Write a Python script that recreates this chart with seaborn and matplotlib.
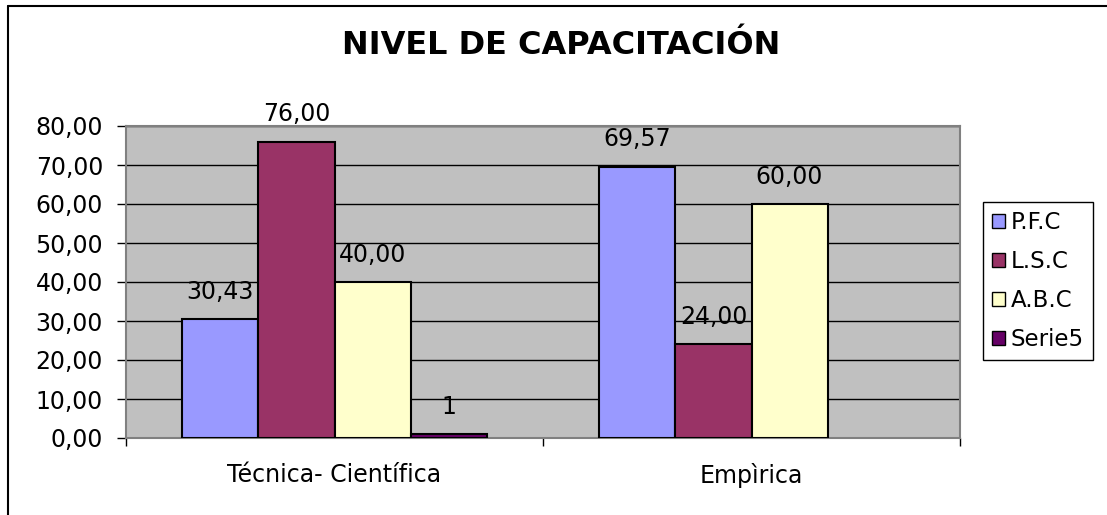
import matplotlib
matplotlib.use('Agg')
import matplotlib.pyplot as plt
import seaborn as sns
import pandas as pd
from matplotlib.lines import Line2D
from matplotlib.patches import Patch

# Chart data
categories = ['Técnica- Científica', 'Empìrica']
series = ['P.F.C', 'L.S.C', 'A.B.C', 'Serie5']
pfc = [30.43, 69.57]
lsc = [76.00, 24.00]
abc = [40.00, 60.00]
serie5 = [1.0, None]
yticks = [0, 10, 20, 30, 40, 50, 60, 70, 80]

colors = {'P.F.C': '#9999FF', 'L.S.C': '#993366', 'A.B.C': '#FFFFCC', 'Serie5': '#660066'}

rows = []
for name, vals in zip(series, [pfc, lsc, abc, serie5]):
    for cat, v in zip(categories, vals):
        if v is not None:
            rows.append({'categoria': cat, 'serie': name, 'valor': v})
df = pd.DataFrame(rows)

sns.set_style('white')
plt.rcParams['font.family'] = ['DejaVu Sans']
plt.rcParams['text.color'] = 'black'
plt.rcParams['xtick.color'] = 'black'
plt.rcParams['ytick.color'] = 'black'
fs = 17

fig = plt.figure(figsize=(11.07, 5.15), dpi=100)
ax = fig.add_axes([126 / 1107, (515 - 438) / 515, 834 / 1107, (438 - 126) / 515])
ax.set_facecolor('#C0C0C0')

sns.barplot(data=df, x='categoria', y='valor', hue='serie', order=categories,
            hue_order=series, palette=colors, saturation=1, width=0.73, dodge=True,
            edgecolor='black', linewidth=1.5, legend=False, ax=ax, zorder=3)

# Value labels
for name, cont in zip(series, ax.containers):
    if name == 'Serie5':
        labels = ['%d' % round(b.get_height()) for b in cont]
    else:
        labels = [('%.2f' % b.get_height()).replace('.', ',') for b in cont]
    ax.bar_label(cont, labels=labels, padding=11, fontsize=fs, color='black')

ax.set_ylim(0, 80)
ax.set_xlim(-0.5, 1.5)
ax.set_yticks(yticks)
ax.set_yticklabels([('%.2f' % t).replace('.', ',') for t in yticks], fontsize=fs)
ax.yaxis.grid(True, color='black', linewidth=1, zorder=0)
ax.set_axisbelow(True)
ax.tick_params(axis='y', left=True, length=6.5, width=1, color='black', pad=10)
ax.set_xticks([0, 1])
ax.set_xticklabels(categories, fontsize=fs)
ax.set_xticks([-0.5, 0.5, 1.5], minor=True)
ax.tick_params(axis='x', which='major', length=0, pad=18)
ax.tick_params(axis='x', which='minor', bottom=True, length=6, width=1, color='black')
ax.set_xlabel('')
ax.set_ylabel('')
for s in ax.spines.values():
    s.set_color('#808080')
    s.set_linewidth(1.5)

fig.text(0.507, 1 - 46 / 515, 'NIVEL DE CAPACITACIÓN', ha='center', va='center',
         fontsize=23, fontweight='bold', color='black')

handles = [Patch(facecolor=colors[s], edgecolor='black', linewidth=1) for s in series]
leg = fig.legend(handles, series, loc='center left', bbox_to_anchor=(983 / 1107, 1 - 281 / 515),
                 fontsize=16.5, frameon=True, fancybox=False, framealpha=1, edgecolor='black',
                 handlelength=0.55, handleheight=0.55, handletextpad=0.25, labelspacing=0.7,
                 borderpad=0.4, borderaxespad=0)
leg.get_frame().set_linewidth(1)

# Chart outer border (left and top visible)
fig.add_artist(Line2D([8 / 1107, 8 / 1107], [0, 1 - 6 / 515], color='black', linewidth=1.5,
                      transform=fig.transFigure))
fig.add_artist(Line2D([8 / 1107, 1], [1 - 6 / 515, 1 - 6 / 515], color='black', linewidth=1.5,
                      transform=fig.transFigure))

fig.savefig('out.png', dpi=100)
